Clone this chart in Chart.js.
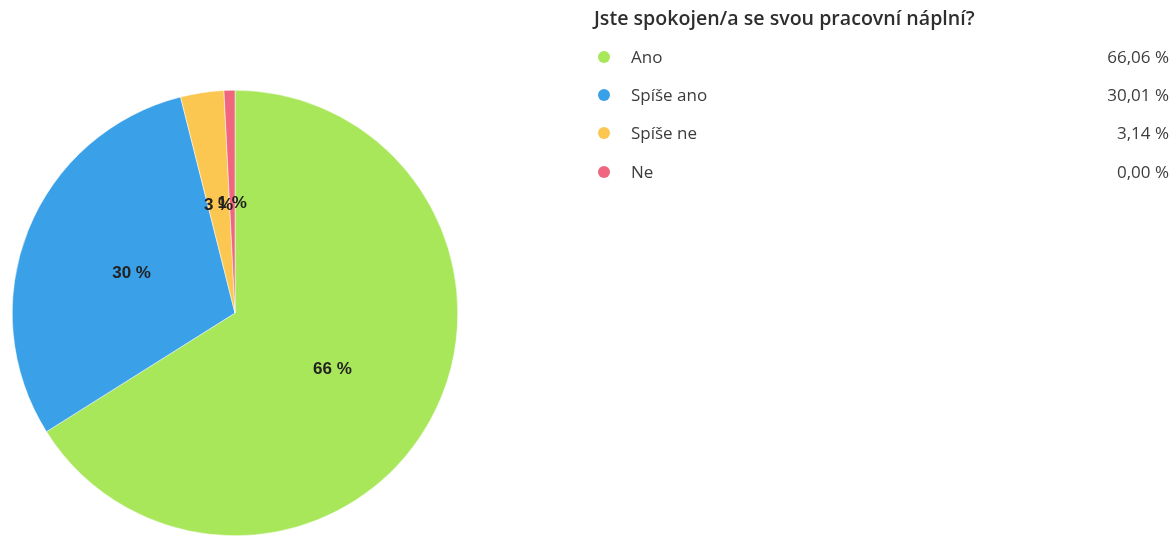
<!DOCTYPE html>
<html>
<head>
<meta charset="utf-8">
<script src="https://cdn.jsdelivr.net/npm/chart.js@4.4.1/dist/chart.umd.min.js"></script>
<style>
  html, body { margin: 0; padding: 0; background: #fff; width: 1174px; height: 536px; overflow: hidden; }
  #pieBox { position: absolute; left: 12px; top: 90px; width: 446px; height: 446px; }
  #legend { position: absolute; left: 0; top: 0; width: 1174px; height: 536px; font-family: "Open Sans", sans-serif; color: #333; }
  #legend .title { position: absolute; left: 594px; top: 4px; font-size: 19.6px; font-weight: 600; line-height: 28px; color: #2e2e2e; white-space: nowrap; }
  #legend .row { position: absolute; left: 594px; width: 576px; height: 24px; font-size: 17px; line-height: 24px; color: #3c3c3c; }
  #legend .dot { position: absolute; left: 4px; top: 6px; width: 12px; height: 12px; border-radius: 50%; }
  #legend .lab { position: absolute; left: 37px; top: 0; white-space: nowrap; }
  #legend .val { position: absolute; right: 1px; top: 0; white-space: nowrap; }
</style>
</head>
<body>
<div id="pieBox"><canvas id="c"></canvas></div>
<div id="legend"></div>
<script>
const title = "Jste spokojen/a se svou pracovní náplní?";
const categories = ["Ano", "Spíše ano", "Spíše ne", "Ne"];
const values = [66.06, 30.01, 3.14, 0.79];
const legendPercents = ["66,06 %", "30,01 %", "3,14 %", "0,00 %"];
const colors = ["#a8e65a", "#3aa0e8", "#fcc750", "#f0667f"];

// HTML legend
const lg = document.getElementById('legend');
const t = document.createElement('div');
t.className = 'title'; t.textContent = title; lg.appendChild(t);
categories.forEach((c, i) => {
  const r = document.createElement('div'); r.className = 'row';
  r.style.top = (45 + i * 38.2) + 'px';
  const d = document.createElement('span'); d.className = 'dot'; d.style.background = colors[i];
  const l = document.createElement('span'); l.className = 'lab'; l.textContent = c;
  const v = document.createElement('span'); v.className = 'val'; v.textContent = legendPercents[i];
  r.appendChild(d); r.appendChild(l); r.appendChild(v); lg.appendChild(r);
});

const sliceLabels = {
  id: 'sliceLabels',
  afterDatasetsDraw(chart) {
    const ctx = chart.ctx;
    const meta = chart.getDatasetMeta(0);
    const data = chart.data.datasets[0].data;
    const total = data.reduce((a, b) => a + b, 0);
    ctx.save();
    ctx.font = 'bold 17px "Liberation Sans", Arial, sans-serif';
    ctx.fillStyle = '#222';
    ctx.textAlign = 'center';
    ctx.textBaseline = 'middle';
    meta.data.forEach((arc, i) => {
      const p = arc.tooltipPosition();
      const pct = Math.round(data[i] / total * 100);
      ctx.fillText(pct + ' %', p.x, p.y + 2);
    });
    ctx.restore();
  }
};

new Chart(document.getElementById('c'), {
  type: 'pie',
  data: {
    labels: categories,
    datasets: [{
      data: values,
      backgroundColor: colors,
      borderColor: '#ffffff',
      borderWidth: 0.5
    }]
  },
  options: {
    responsive: true,
    maintainAspectRatio: false,
    animation: false,
    layout: { padding: 0 },
    plugins: { legend: { display: false }, tooltip: { enabled: false } }
  },
  plugins: [sliceLabels]
});
</script>
</body>
</html>
